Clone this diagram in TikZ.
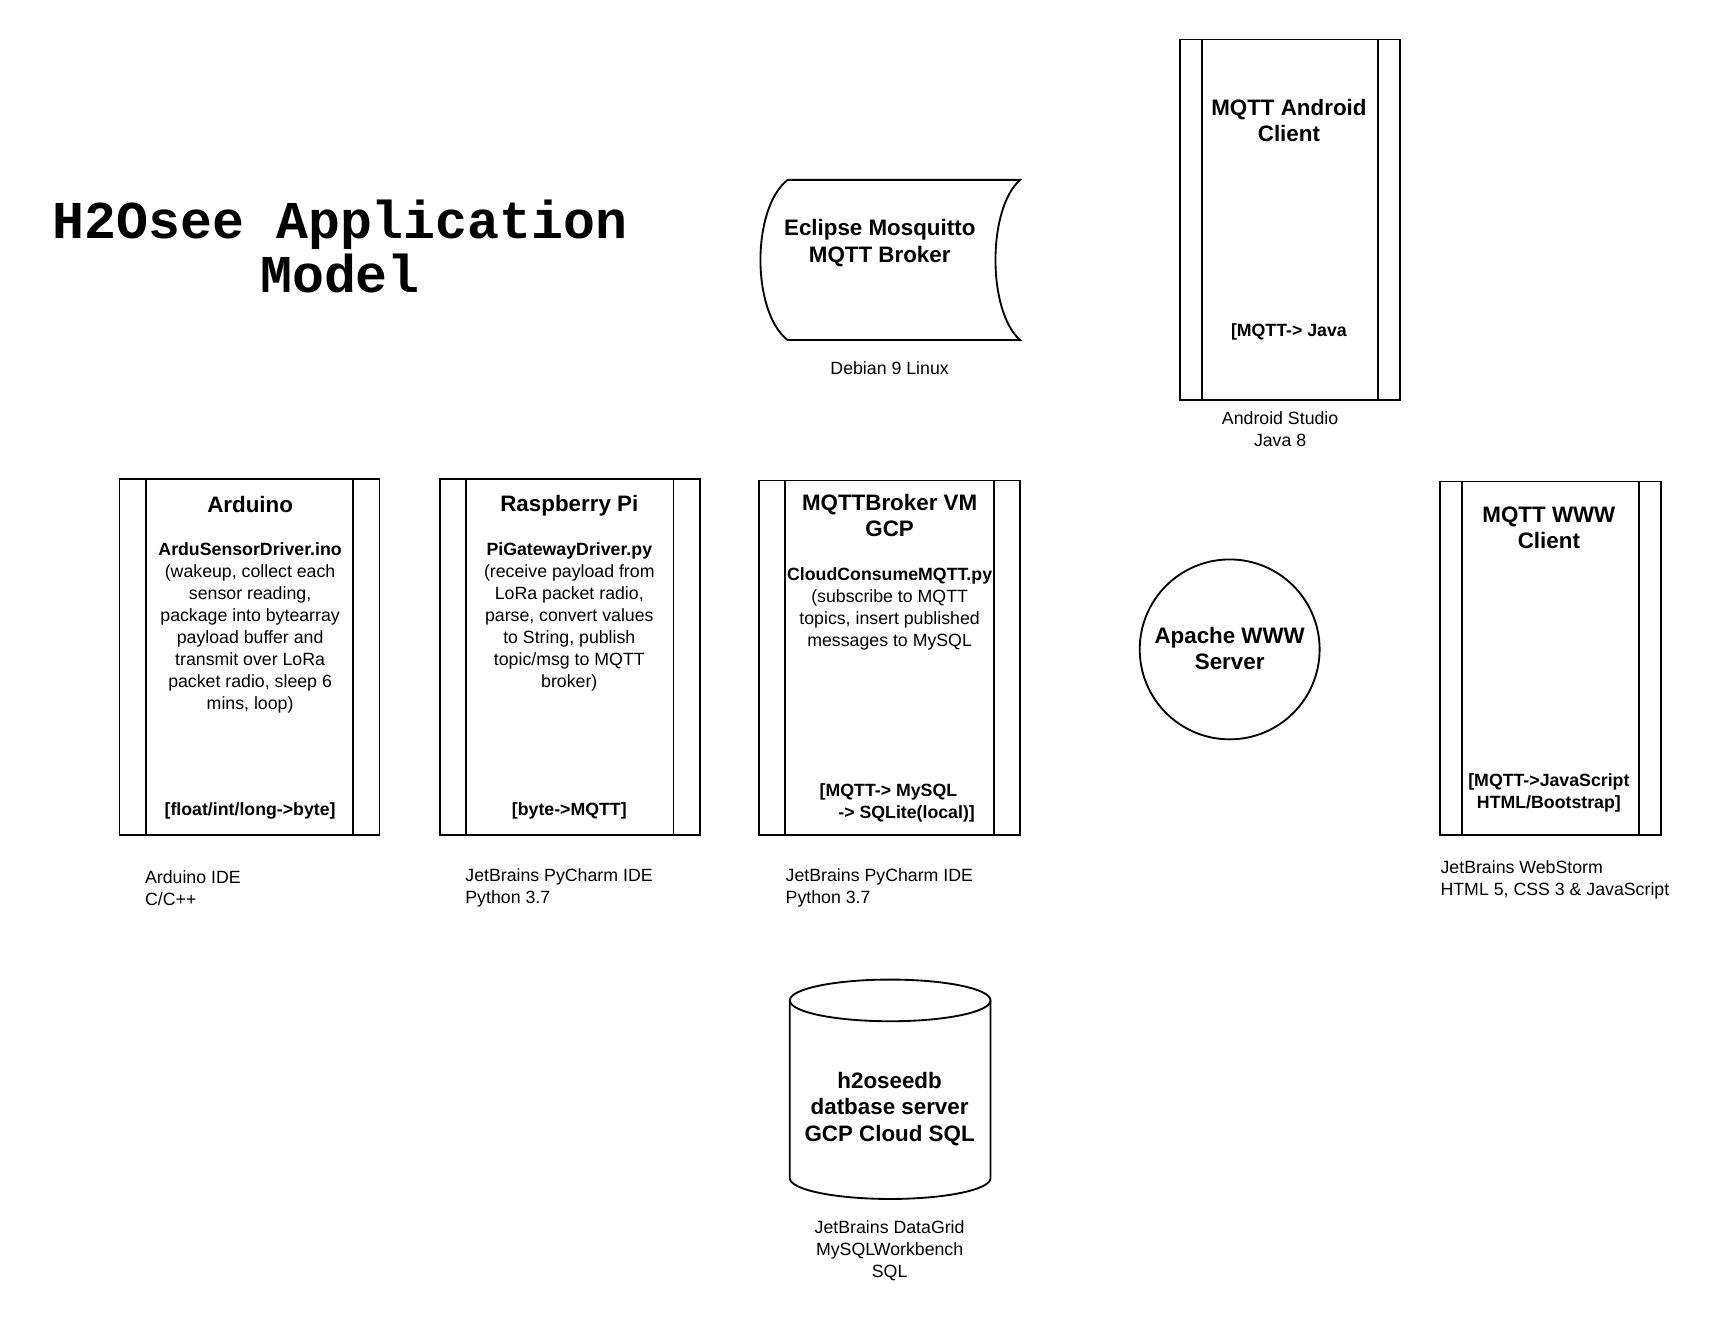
\documentclass[tikz,border=0pt]{standalone}
\usepackage{fontspec}
\setmainfont{Liberation Sans}
\newfontfamily\titlefont{Liberation Mono}
\usepackage{tikz}
\usetikzlibrary{shapes,positioning}

\begin{document}
\begin{tikzpicture}[
    x=0.25mm, y=-0.25mm,
    procbox/.style={rectangle, draw=black, line width=1.2pt, inner sep=0pt,
        path picture={\draw[line width=1.2pt]
            ([xshift=#1]path picture bounding box.north west) -- ([xshift=#1]path picture bounding box.south west)
            ([xshift=-#1]path picture bounding box.north east) -- ([xshift=-#1]path picture bounding box.south east);}},
    procbox/.default=6mm,
    head/.style={font=\bfseries\fontsize{14.5}{17.1}\selectfont, align=center, inner sep=0pt},
    body/.style={font=\fontsize{11.5}{14.2}\selectfont, align=center, inner sep=0pt},
    tag/.style={font=\bfseries\fontsize{11.5}{14.2}\selectfont, align=center, inner sep=0pt},
    note/.style={font=\fontsize{11.5}{14.2}\selectfont, align=left, anchor=west, inner sep=0pt},
    outline/.style={draw=black, line width=1.2pt}
]
\useasboundingbox (0,0) rectangle (1568,1203);

% title
\node[font=\titlefont\bfseries\fontsize{34.5}{34.9}\selectfont, align=center, inner sep=0pt] (title) at (310,225) {H2Osee Application\\Model};

% broker and android client
\draw[outline] (718,164) -- (930,164) .. controls (900,190) and (900,284) .. (930,310)
    -- (718,310) .. controls (685,284) and (685,190) .. (718,164);
\node[head] (mosq) at (802,221.5) {Eclipse Mosquitto\\MQTT Broker};
\node[body] (mosqnote) at (811,336) {Debian 9 Linux};

\node[procbox=5mm, minimum width=50mm, minimum height=82.25mm] (android) at (1176,200.5) {};
\node[head] (androidhead) at (1175,110) {MQTT Android\\Client};
\node[tag] (androidtag) at (1175,303) {[MQTT-> Java};
\node[body] (androidnote) at (1167,391) {Android Studio\\Java 8};

% devices
\node[procbox, minimum width=59.25mm, minimum height=81mm] (arduino) at (227.5,599) {};
\node[head] (arduinohead) at (228,460) {Arduino};
\node[body] (arduinobody) at (228,572.5) {\textbf{ArduSensorDriver.ino}\\(wakeup, collect each\\sensor reading,\\package into bytearray\\payload buffer and\\transmit over LoRa\\packet radio, sleep 6\\mins, loop)};
\node[tag] (arduinotag) at (228,739.5) {[float/int/long->byte]};
\node[note] (arduinonote) at (132,809.5) {Arduino IDE\\C/C++};

\node[procbox, minimum width=59.25mm, minimum height=81mm] (raspi) at (519.5,599) {};
\node[head] (raspihead) at (519,461) {Raspberry Pi};
\node[body] (raspibody) at (519,562.5) {\textbf{PiGatewayDriver.py}\\(receive payload from\\LoRa packet radio,\\parse, convert values\\to String, publish\\topic/msg to MQTT\\broker)};
\node[tag] (raspitag) at (519,739.5) {[byte->MQTT]};
\node[note] (raspinote) at (424,809.5) {JetBrains PyCharm IDE\\Python 3.7};

\node[procbox, minimum width=59.5mm, minimum height=80.75mm] (vm) at (811,599.5) {};
\node[head] (vmhead) at (811,470) {MQTTBroker VM\\GCP};
\node[body] (vmbody) at (811,555) {\textbf{CloudConsumeMQTT.py}\\(subscribe to MQTT\\topics, insert published\\messages to MySQL};
\node[tag, align=left, anchor=west] (vmtag) at (747,732) {[MQTT-> MySQL\\\hspace*{4.25mm}-> SQLite(local)]};
\node[note] (vmnote) at (716,809.5) {JetBrains PyCharm IDE\\Python 3.7};

% web
\node[circle, outline, minimum size=41mm, inner sep=0pt] (apache) at (1121,592) {};
\node[head] (apachehead) at (1121,591) {Apache WWW\\Server};

\node[procbox=5mm, minimum width=50.25mm, minimum height=80.5mm] (www) at (1413.5,600) {};
\node[head] (wwwhead) at (1412,481) {MQTT WWW\\Client};
\node[tag] (wwwtag) at (1412,723) {[MQTT->JavaScript\\HTML/Bootstrap]};
\node[note] (wwwnote) at (1313,802.5) {JetBrains WebStorm\\HTML 5, CSS 3 \& JavaScript};

% database
\draw[outline] (720,912) -- (720,1074) arc[start angle=180, end angle=0, x radius=91.5, y radius=19] -- (903,912);
\draw[outline] (811.5,912) ellipse[x radius=91.5, y radius=19];
\node[head] (db) at (811,1011) {h2oseedb\\datbase server\\GCP Cloud SQL};
\node[body] (dbnote) at (811,1140.5) {JetBrains DataGrid\\MySQLWorkbench\\SQL};
\end{tikzpicture}
\end{document}
